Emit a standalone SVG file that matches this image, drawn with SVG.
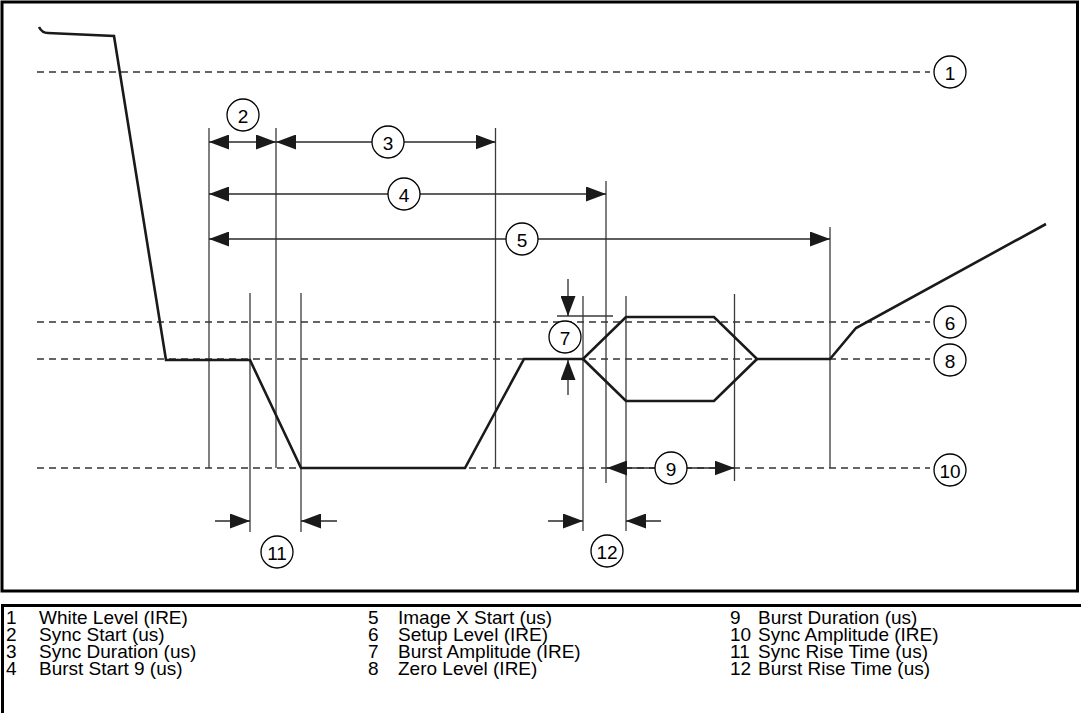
<svg xmlns="http://www.w3.org/2000/svg" width="1081" height="713" viewBox="0 0 1081 713">
<style>
  .frame{fill:none;stroke:#000;stroke-width:3}
  .level{stroke:#333;stroke-width:1.3;stroke-dasharray:7 5;fill:none}
  .wave{fill:none;stroke:#1a1a1a;stroke-width:2.6;stroke-linejoin:miter}
  .ext{stroke:#3a3a3a;stroke-width:1.3;fill:none}
  .dim{stroke:#2a2a2a;stroke-width:1.3;fill:none}
  .both{marker-start:url(#ah);marker-end:url(#ah)}
  .end{marker-end:url(#ah)}
  .callout circle{fill:#fff;stroke:#000;stroke-width:1.3}
  .callout text{font-family:"Liberation Sans",Arial,sans-serif;font-size:19px;fill:#000;text-anchor:middle;dominant-baseline:central}
  .legend text{font-family:"Liberation Sans",Arial,sans-serif;font-size:19px;fill:#000}
</style>
<defs>
  <marker id="ah" viewBox="0 0 20 15" refX="20" refY="7.5" markerWidth="20" markerHeight="15" markerUnits="userSpaceOnUse" orient="auto-start-reverse">
    <path d="M0,0 L20,7.5 L0,15 z" fill="#1a1a1a"/>
  </marker>
</defs>
<rect x="0" y="0" width="1081" height="713" fill="#fff"/>
<rect id="diagram-frame" class="frame" x="2" y="2" width="1075.5" height="589"/>
<g id="levels">
  <line class="level" x1="37" y1="72" x2="930" y2="72"/>
  <line class="level" x1="37" y1="322" x2="930" y2="322"/>
  <line class="level" x1="37" y1="359" x2="930" y2="359"/>
  <line class="level" x1="37" y1="468" x2="930" y2="468"/>
</g>
<g id="extension-lines">
  <line class="ext" x1="209" y1="128" x2="209" y2="468"/>
  <line class="ext" x1="276" y1="128" x2="276" y2="468"/>
  <line class="ext" x1="495.5" y1="128" x2="495.5" y2="468"/>
  <line class="ext" x1="606" y1="181" x2="606" y2="483"/>
  <line class="ext" x1="830" y1="227" x2="830" y2="468"/>
  <line class="ext" x1="250" y1="293" x2="250" y2="532"/>
  <line class="ext" x1="301" y1="293" x2="301" y2="532"/>
  <line class="ext" x1="583" y1="296" x2="583" y2="531"/>
  <line class="ext" x1="626" y1="296" x2="626" y2="531"/>
  <line class="ext" x1="734.5" y1="294" x2="734.5" y2="481"/>
  <line class="ext" x1="557" y1="316" x2="613" y2="316"/>
</g>
<g id="waveform">
  <path class="wave" d="M39,27 Q42,33 48,33 L114,36 L166,360 L250,360 L301,468 L465,468 L524,359 L583,359 L626,317 L714,317 L757,359 L830,359 L856,328 L1046,224"/>
  <path class="wave" d="M583,359 L626,401 L714,401 L757,359"/>
</g>
<g id="connectors">
  <line class="dim both" x1="209" y1="142" x2="276" y2="142"/>
  <line class="dim both" x1="276" y1="142" x2="495.5" y2="142"/>
  <line class="dim both" x1="209" y1="194" x2="606" y2="194"/>
  <line class="dim both" x1="209" y1="239" x2="830" y2="239"/>
  <line class="dim both" x1="607" y1="468" x2="734.5" y2="468"/>
  <line class="dim end" x1="215" y1="521" x2="250" y2="521"/>
  <line class="dim end" x1="337" y1="521" x2="301" y2="521"/>
  <line class="dim end" x1="548" y1="521" x2="583" y2="521"/>
  <line class="dim end" x1="661" y1="521" x2="626" y2="521"/>
  <line class="dim end" x1="568" y1="279" x2="568" y2="316"/>
  <line class="dim end" x1="568" y1="395" x2="568" y2="360"/>
</g>
<g id="callout-1" class="callout"><circle cx="950" cy="72" r="16"/><text x="950" y="73">1</text></g>
<g id="callout-2" class="callout"><circle cx="243" cy="115" r="16"/><text x="243" y="116">2</text></g>
<g id="callout-3" class="callout"><circle cx="388" cy="142" r="16"/><text x="388" y="143">3</text></g>
<g id="callout-4" class="callout"><circle cx="404" cy="194" r="16"/><text x="404" y="195">4</text></g>
<g id="callout-5" class="callout"><circle cx="522" cy="239" r="16"/><text x="522" y="240">5</text></g>
<g id="callout-6" class="callout"><circle cx="950" cy="322" r="16"/><text x="950" y="323">6</text></g>
<g id="callout-7" class="callout"><circle cx="565" cy="337" r="16"/><text x="565" y="338">7</text></g>
<g id="callout-8" class="callout"><circle cx="950" cy="360" r="16"/><text x="950" y="361">8</text></g>
<g id="callout-9" class="callout"><circle cx="671" cy="468" r="16"/><text x="671" y="469">9</text></g>
<g id="callout-10" class="callout"><circle cx="950" cy="470" r="16"/><text x="950" y="471">10</text></g>
<g id="callout-11" class="callout"><circle cx="277" cy="552" r="16"/><text x="277" y="553">11</text></g>
<g id="callout-12" class="callout"><circle cx="607" cy="551" r="16"/><text x="607" y="552">12</text></g>
<g id="legend" class="legend">
  <path class="frame" d="M1,605.5 H1085 M2.5,605.5 V715"/>
  <text x="6" y="624">1</text><text x="39" y="624">White Level (IRE)</text>
  <text x="6" y="641">2</text><text x="39" y="641">Sync Start (us)</text>
  <text x="6" y="658">3</text><text x="39" y="658">Sync Duration (us)</text>
  <text x="6" y="675">4</text><text x="39" y="675">Burst Start 9 (us)</text>
  <text x="368" y="624">5</text><text x="398" y="624">Image X Start (us)</text>
  <text x="368" y="641">6</text><text x="398" y="641">Setup Level (IRE)</text>
  <text x="368" y="658">7</text><text x="398" y="658">Burst Amplitude (IRE)</text>
  <text x="368" y="675">8</text><text x="398" y="675">Zero Level (IRE)</text>
  <text x="730" y="624">9</text><text x="758" y="624">Burst Duration (us)</text>
  <text x="730" y="641">10</text><text x="758" y="641">Sync Amplitude (IRE)</text>
  <text x="730" y="658">11</text><text x="758" y="658">Sync Rise Time (us)</text>
  <text x="730" y="675">12</text><text x="758" y="675">Burst Rise Time (us)</text>
</g>
</svg>
